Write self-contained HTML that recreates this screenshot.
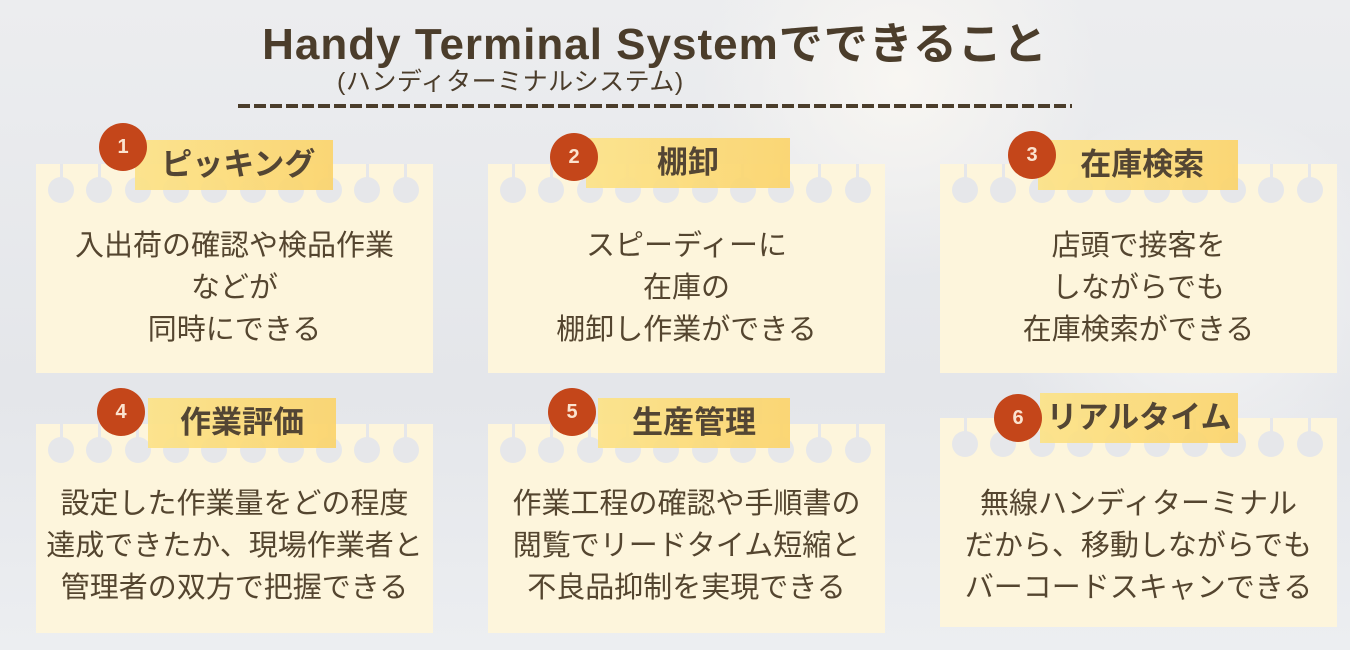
<!DOCTYPE html>
<html><head><meta charset="utf-8"><style>
body{margin:0;width:1350px;height:650px;overflow:hidden;position:relative;font-family:"Liberation Sans","Noto Sans CJK JP",sans-serif;color:#4b3d2b;
background:radial-gradient(circle at 900px 80px,#f8f6f2 0,rgba(248,246,242,0) 200px),radial-gradient(circle at 1200px 300px,#f5f5f5 0,rgba(245,245,245,0) 200px),linear-gradient(180deg,#ecedef,#e4e6ea 60%,#eceef1);}
.abs{position:absolute}
.title{left:0;width:1310px;top:8px;text-align:center;font-size:44px;font-weight:bold;letter-spacing:1px;white-space:nowrap}
.sub{left:337px;top:62px;font-size:25px;letter-spacing:0.5px;white-space:nowrap}
.dash{left:238px;top:104px;width:834px;height:4px;background:repeating-linear-gradient(90deg,#4b3d2b 0 12px,transparent 12px 16px)}
.card{position:absolute;width:397px;height:209px;background:#fdf5dc}
.hole{position:absolute;top:13px;width:26px;height:26px;border-radius:50%;background:#e6e7ea}
.stem{position:absolute;top:0;width:3px;height:20px;background:#e6e7ea}
.txt{position:absolute;left:0;width:100%;text-align:center;font-size:29px;line-height:42px;color:#54452f;white-space:nowrap}
.tape{position:absolute;height:50px;background:linear-gradient(90deg,#fce38a,#fbd56f);font-size:31px;font-weight:bold;text-align:center;line-height:50px;opacity:.95;white-space:nowrap}
.badge{position:absolute;width:48px;height:48px;border-radius:50%;background:#c4461a;color:#fbe3cf;font-weight:bold;font-size:20px;text-align:center;line-height:48px}
</style></head><body>
<div class="abs title">Handy Terminal Systemでできること</div>
<div class="abs sub">(ハンディターミナルシステム)</div>
<div class="abs dash"></div>

<div class="card" style="left:36px;top:164px"><div class="txt" style="top:61px">入出荷の確認や検品作業<br>などが<br>同時にできる</div></div>
<div class="card" style="left:488px;top:164px"><div class="txt" style="top:61px">スピーディーに<br>在庫の<br>棚卸し作業ができる</div></div>
<div class="card" style="left:940px;top:164px"><div class="txt" style="top:61px">店頭で接客を<br>しながらでも<br>在庫検索ができる</div></div>
<div class="card" style="left:36px;top:424px"><div class="txt" style="top:59px">設定した作業量をどの程度<br>達成できたか、現場作業者と<br>管理者の双方で把握できる</div></div>
<div class="card" style="left:488px;top:424px"><div class="txt" style="top:59px">作業工程の確認や手順書の<br>閲覧でリードタイム短縮と<br>不良品抑制を実現できる</div></div>
<div class="card" style="left:940px;top:418px"><div class="txt" style="top:65px">無線ハンディターミナル<br>だから、移動しながらでも<br>バーコードスキャンできる</div></div>

<div class="tape" style="left:135px;top:140px;width:198px">&nbsp;ピッキング</div>
<div class="tape" style="left:586px;top:138px;width:204px">棚卸</div>
<div class="tape" style="left:1038px;top:140px;width:200px">&nbsp;在庫検索</div>
<div class="tape" style="left:148px;top:398px;width:188px">作業評価</div>
<div class="tape" style="left:598px;top:398px;width:192px">生産管理</div>
<div class="tape" style="left:1040px;top:393px;width:198px">リアルタイム</div>

<div class="badge" style="left:99px;top:123px">1</div>
<div class="badge" style="left:550px;top:133px">2</div>
<div class="badge" style="left:1008px;top:131px">3</div>
<div class="badge" style="left:97px;top:388px">4</div>
<div class="badge" style="left:548px;top:388px">5</div>
<div class="badge" style="left:994px;top:394px">6</div>

<script>
var cards=[[36,164],[488,164],[940,164],[36,424],[488,424],[940,418]];
cards.forEach(function(c){for(var i=0;i<10;i++){var x=c[0]+25+i*38.3;
var s=document.createElement('div');s.className='stem';s.style.left=(x-1.5)+'px';s.style.top=c[1]+'px';document.body.appendChild(s);
var h=document.createElement('div');h.className='hole';h.style.left=(x-13)+'px';h.style.top=(c[1]+13)+'px';document.body.appendChild(h);}});
document.querySelectorAll('.tape,.badge').forEach(function(e){document.body.appendChild(e);});
</script>
</body></html>
